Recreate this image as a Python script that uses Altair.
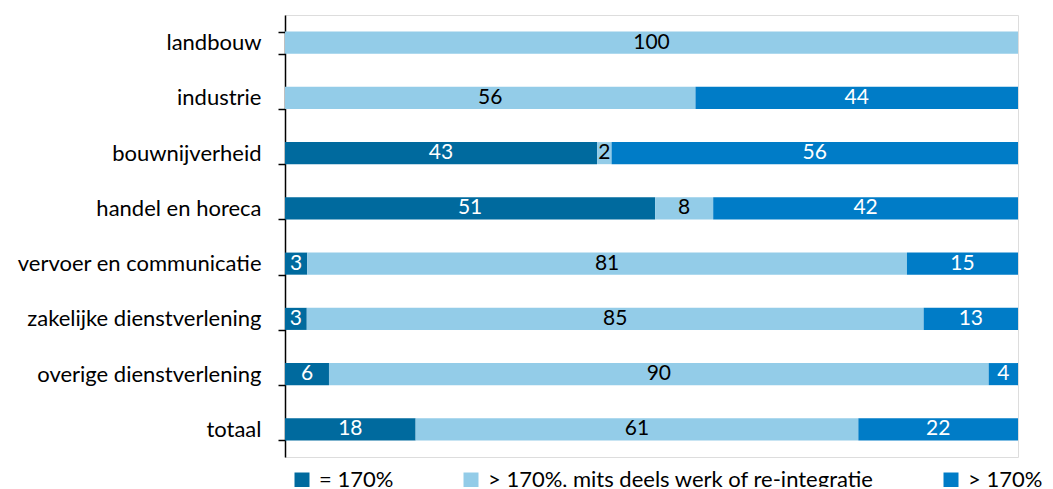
import altair as alt
import pandas as pd

categories = ["landbouw", "industrie", "bouwnijverheid", "handel en horeca",
              "vervoer en communicatie", "zakelijke dienstverlening",
              "overige dienstverlening", "totaal"]
series = ["= 170%", "> 170%, mits deels werk of re-integratie", "> 170%"]
eq170 = [0, 0, 43, 51, 3, 3, 6, 18]
mits = [100, 56, 2, 8, 81, 85, 90, 61]
gt170 = [0, 44, 56, 42, 15, 13, 4, 22]
colors = ["#006A9E", "#93CCE8", "#007CC7"]
text_colors = ["#FFFFFF", "#000000", "#FFFFFF"]

rows = []
for i, c in enumerate(categories):
    for j, vals in enumerate([eq170, mits, gt170]):
        if vals[i] > 0:
            rows.append({"cat": c, "series": series[j], "order": j, "value": vals[i],
                         "tcol": text_colors[j]})
df = pd.DataFrame(rows)

FONT = "Lato"

base = alt.Chart(df).transform_joinaggregate(
    total="sum(value)", groupby=["cat"]
).transform_stack(
    stack="value", groupby=["cat"], as_=["v0", "v1"], sort=[alt.SortField("order")]
).transform_calculate(
    p0="datum.v0 / datum.total",
    p1="datum.v1 / datum.total",
    mid="(datum.v0 + datum.v1) / 2 / datum.total",
)

yenc = alt.Y("cat:N", sort=categories, title=None,
             scale=alt.Scale(paddingInner=0.6, paddingOuter=0.3),
             axis=alt.Axis(domainColor="#000000", domainWidth=1.5, tickColor="#000000",
                           tickWidth=1.5, tickSize=7, tickBand="extent",
                           labelFont=FONT, labelFontSize=22, labelColor="#000000",
                           labelPadding=17, labelLimit=400))

xscale = alt.Scale(domain=[0, 1], nice=False, zero=True)

bars = base.mark_bar().encode(
    y=yenc,
    x=alt.X("p0:Q", scale=xscale, axis=None),
    x2="p1:Q",
    color=alt.Color("series:N", sort=series,
                    scale=alt.Scale(domain=series, range=colors),
                    legend=alt.Legend(title=None, orient="none", direction="horizontal",
                                      legendX=6, legendY=454, columns=3,
                                      columnPadding=66, symbolType="square",
                                      symbolSize=225, symbolStrokeWidth=0,
                                      labelFont=FONT, labelFontSize=22,
                                      labelColor="#000000", labelOffset=6,
                                      labelLimit=600)),
)

texts = base.mark_text(font=FONT, fontSize=21, baseline="middle", align="center").encode(
    y=alt.Y("cat:N", sort=categories),
    x=alt.X("mid:Q", scale=xscale),
    text="value:Q",
    color=alt.Color("tcol:N", scale=None),
)

chart = alt.layer(bars, texts).properties(
    width=733, height=442,
    autosize=alt.AutoSizeParams(type="none"),
    padding={"left": 277, "top": 7, "right": 27, "bottom": 30},
).configure_view(stroke=None).configure(background="#FFFFFF")

chart.save("out.html", embed_options={"renderer": "svg", "actions": False})
